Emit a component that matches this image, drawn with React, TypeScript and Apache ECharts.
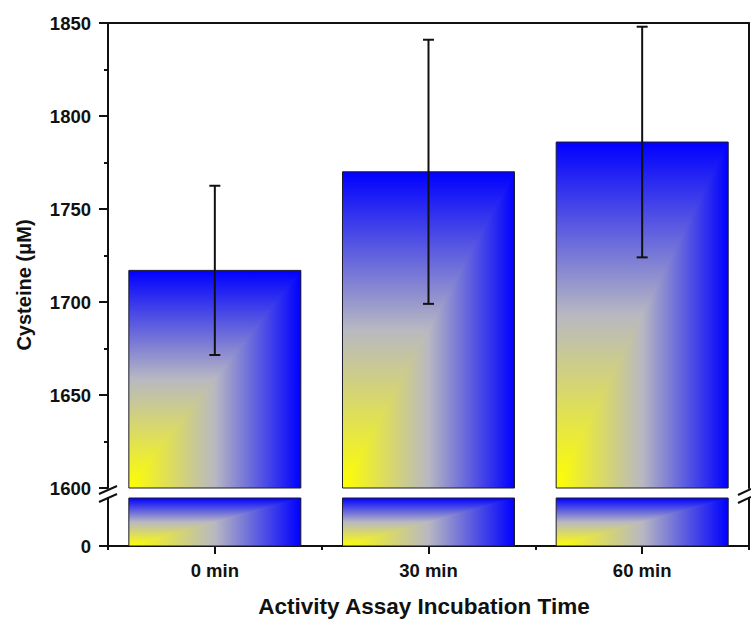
import { useEffect, useRef } from "react";
import * as echarts from "echarts";

// Incubation times on the category axis
const categories = ["0 min", "30 min", "60 min"];
// Mean cysteine concentration (µM) and its error (±)
const cysteine = [1717, 1770, 1786];
const cysteineErr = [45.5, 71, 62];
// Upper (zoomed) axis range and the short lower segment below the break
const upperRange = [1600, 1850];
const upperStep = 50;
const lowerRange = [0, 100];
const lowerLabels = [0];

const YELLOW = "#ffff00";
const MID = "#b8b8c2";
const BLUE = "#0000ff";
const INK = "#111111";
const FONT = "Liberation Sans, Arial, Helvetica, sans-serif";

const stops = () => [
  { offset: 0, color: YELLOW },
  { offset: 0.5, color: MID },
  { offset: 1, color: BLUE },
];

// Bars use a corner gradient: yellow at the bottom-left, blue towards the top and right.
function barRenderer(base: number, cap: number) {
  return (_params: any, api: any) => {
    const idx = api.value(0);
    const v = Math.min(api.value(1), cap);
    const b = api.coord([idx, base]);
    const t = api.coord([idx, v]);
    const w = api.size([1, 0])[0] * 0.805;
    const x0 = b[0] - w / 2;
    const x1 = x0 + w;
    const y0 = t[1];
    const y1 = b[1];
    return {
      type: "group",
      children: [
        {
          type: "rect",
          shape: { x: x0, y: y0, width: w, height: y1 - y0 },
          style: { fill: new echarts.graphic.LinearGradient(0, 1, 0, 0, stops()) },
        },
        {
          type: "polygon",
          shape: { points: [[x0, y1], [x1, y1], [x1, y0]] },
          style: { fill: new echarts.graphic.LinearGradient(0, 0, 1, 0, stops()) },
        },
        {
          type: "rect",
          shape: { x: x0, y: y0, width: w, height: y1 - y0 },
          style: { fill: "none", stroke: "#1c1c2a", lineWidth: 1 },
        },
      ],
    };
  };
}

function errorRenderer(_params: any, api: any) {
  const idx = api.value(0);
  const m = api.value(1);
  const e = api.value(2);
  const hi = api.coord([idx, m + e]);
  const lo = api.coord([idx, m - e]);
  const c = 5.5;
  const st = { stroke: INK, lineWidth: 2 };
  return {
    type: "group",
    children: [
      { type: "line", shape: { x1: hi[0], y1: hi[1], x2: lo[0], y2: lo[1] }, style: st },
      { type: "line", shape: { x1: hi[0] - c, y1: hi[1], x2: hi[0] + c, y2: hi[1] }, style: st },
      { type: "line", shape: { x1: lo[0] - c, y1: lo[1], x2: lo[0] + c, y2: lo[1] }, style: st },
    ],
  };
}

const LEFT = 108;
const RIGHT = 2;
const UP_TOP = 23;
const UP_H = 465;
const LOW_TOP = 498;
const LOW_H = 48;
const W = 751;

export default function App() {
  const ref = useRef<HTMLDivElement>(null);

  useEffect(() => {
    if (!ref.current) return;
    const chart = echarts.init(ref.current, null, { renderer: "svg" });
    const upBottom = UP_TOP + UP_H;
    const axisRight = W - RIGHT - 1;
    const labelStyle = {
      color: INK,
      fontFamily: FONT,
      fontWeight: "bold" as const,
      fontSize: 18.5,
      formatter: (v: any) => String(v),
    };
    const lineStyle = { color: INK, width: 2 };
    const barData = categories.map((_, i) => [i, cysteine[i]]);
    const errData = categories.map((_, i) => [i, cysteine[i], cysteineErr[i]]);
    const breakLine = (x1: number, y1: number, x2: number, y2: number) => ({
      type: "line",
      shape: { x1, y1, x2, y2 },
      style: { stroke: INK, lineWidth: 2 },
      z: 10,
    });

    chart.setOption({
      animation: false,
      backgroundColor: "#ffffff",
      grid: [
        { left: LEFT, right: RIGHT, top: UP_TOP, height: UP_H },
        { left: LEFT, right: RIGHT, top: LOW_TOP, height: LOW_H },
      ],
      xAxis: [
        {
          type: "category",
          gridIndex: 0,
          position: "top",
          data: categories,
          axisLine: { show: true, lineStyle },
          axisTick: { show: false },
          axisLabel: { show: false },
        },
        {
          type: "category",
          gridIndex: 1,
          position: "bottom",
          data: categories,
          axisLine: { show: true, lineStyle },
          axisTick: { show: true, alignWithLabel: true, length: 8, lineStyle },
          axisLabel: { ...labelStyle, margin: 15 },
        },
        {
          type: "category",
          gridIndex: 1,
          position: "bottom",
          data: categories,
          axisLine: { show: false },
          axisTick: { show: true, length: 4, lineStyle },
          axisLabel: { show: false },
        },
      ],
      yAxis: [
        {
          type: "value",
          gridIndex: 0,
          position: "left",
          min: upperRange[0],
          max: upperRange[1],
          interval: upperStep,
          axisLine: { show: true, lineStyle },
          axisTick: { show: true, length: 9, lineStyle },
          minorTick: { show: true, splitNumber: 2, length: 4, lineStyle },
          splitLine: { show: false },
          axisLabel: { ...labelStyle, margin: 17 },
        },
        {
          type: "value",
          gridIndex: 0,
          position: "right",
          min: upperRange[0],
          max: upperRange[1],
          axisLine: { show: true, lineStyle },
          axisTick: { show: false },
          splitLine: { show: false },
          axisLabel: { show: false },
        },
        {
          type: "value",
          gridIndex: 1,
          position: "left",
          min: lowerRange[0],
          max: lowerRange[1],
          axisLine: { show: true, lineStyle },
          axisTick: { show: true, length: 9, lineStyle, customValues: lowerLabels },
          splitLine: { show: false },
          axisLabel: { ...labelStyle, margin: 17, customValues: lowerLabels },
        },
        {
          type: "value",
          gridIndex: 1,
          position: "right",
          min: lowerRange[0],
          max: lowerRange[1],
          axisLine: { show: true, lineStyle },
          axisTick: { show: false },
          splitLine: { show: false },
          axisLabel: { show: false },
        },
      ],
      series: [
        {
          type: "custom",
          name: "upper bars",
          xAxisIndex: 0,
          yAxisIndex: 0,
          encode: { x: 0, y: 1 },
          data: barData,
          renderItem: barRenderer(upperRange[0], upperRange[1]),
          z: 2,
        },
        {
          type: "custom",
          name: "lower bars",
          xAxisIndex: 1,
          yAxisIndex: 2,
          encode: { x: 0, y: 1 },
          data: barData,
          renderItem: barRenderer(lowerRange[0], lowerRange[1]),
          z: 2,
        },
        {
          type: "custom",
          name: "error",
          xAxisIndex: 0,
          yAxisIndex: 0,
          encode: { x: 0, y: 1 },
          data: errData,
          renderItem: errorRenderer,
          z: 3,
        },
      ],
      graphic: [
        // axis break marks, left and right
        breakLine(LEFT - 9, upBottom + 6, LEFT + 9, upBottom - 2),
        breakLine(LEFT - 9, LOW_TOP + 4, LEFT + 9, LOW_TOP - 4),
        breakLine(axisRight - 10, upBottom + 7, axisRight + 3, upBottom + 1),
        breakLine(axisRight - 10, LOW_TOP + 5, axisRight + 3, LOW_TOP - 1),
        {
          type: "text",
          x: 24,
          y: 285,
          rotation: Math.PI / 2,
          style: {
            text: "Cysteine (\u03bcM)",
            fill: INK,
            fontFamily: FONT,
            fontWeight: "bold",
            fontSize: 20,
            align: "center",
            verticalAlign: "middle",
          },
        },
        {
          type: "text",
          x: 424,
          y: 606,
          style: {
            text: "Activity Assay Incubation Time",
            fill: INK,
            fontFamily: FONT,
            fontWeight: "bold",
            fontSize: 22.5,
            align: "center",
            verticalAlign: "middle",
          },
        },
      ],
    });
    return () => chart.dispose();
  }, []);

  return (
    <div
      ref={ref}
      style={{ position: "absolute", left: 0, top: 0, width: 751, height: 620 }}
    />
  );
}
